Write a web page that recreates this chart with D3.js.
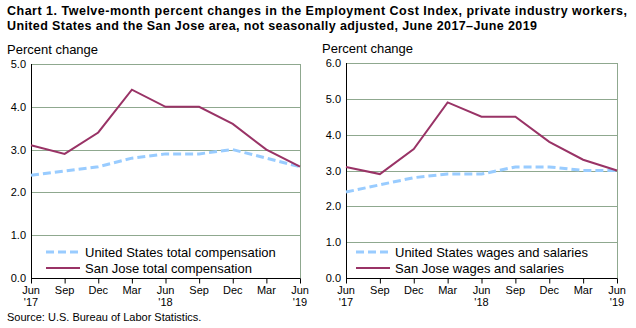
<!DOCTYPE html>
<html>
<head>
<meta charset="utf-8">
<script src="https://cdn.jsdelivr.net/npm/d3@7/dist/d3.min.js"></script>
<style>
  body { margin: 0; background: #fff; }
  text { font-family: "Liberation Sans", Arial, sans-serif; fill: #000; }
  .title { font-weight: bold; font-size: 12.5px; }
  .grid line { stroke: #8fa88f; stroke-width: 1; }
</style>
</head>
<body>
<script>
// quarters, June 2017 to June 2019
const months = ["Jun", "Sep", "Dec", "Mar", "Jun", "Sep", "Dec", "Mar", "Jun"];
const years = ["'17", "", "", "", "'18", "", "", "", "'19"];

// total compensation
const usComp = [2.4, 2.5, 2.6, 2.8, 2.9, 2.9, 3.0, 2.8, 2.6];
const sjComp = [3.1, 2.9, 3.4, 4.4, 4.0, 4.0, 3.6, 3.0, 2.6];

// wages and salaries
const usWages = [2.4, 2.6, 2.8, 2.9, 2.9, 3.1, 3.1, 3.0, 3.0];
const sjWages = [3.1, 2.9, 3.6, 4.9, 4.5, 4.5, 3.8, 3.3, 3.0];

const W = 636, H = 328;
const svg = d3.select("body").append("svg").attr("width", W).attr("height", H);

svg.append("text").attr("class", "title").attr("x", 7).attr("y", 15)
  .attr("textLength", 620).attr("lengthAdjust", "spacing")
  .text("Chart 1. Twelve-month percent changes in the Employment Cost  Index, private industry  workers,");
svg.append("text").attr("class", "title").attr("x", 7).attr("y", 30)
  .attr("textLength", 530).attr("lengthAdjust", "spacing")
  .text("United  States and the  San Jose  area, not seasonally adjusted,  June 2017\u2013June  2019");

svg.append("text").attr("x", 7).attr("y", 321).style("font-size", "11px")
  .text("Source: U.S. Bureau of Labor Statistics.");

function panel(opt) {
  const x = d3.scalePoint().domain(d3.range(months.length)).range([opt.x0, opt.x1]);
  const y = d3.scaleLinear().domain([0, opt.yMax]).range([opt.y1, opt.y0]);
  const g = svg.append("g");

  g.append("text").attr("x", opt.labelX).attr("y", opt.y0 - 10).style("font-size", "13px")
    .text("Percent change");

  // gridlines and plot frame
  const ticks = d3.range(0, opt.yMax + 0.01, 1);
  g.append("g").attr("class", "grid").selectAll("line")
    .data(ticks.filter(t => t > 0)).join("line")
    .attr("x1", opt.x0).attr("x2", opt.x1)
    .attr("y1", d => Math.round(y(d)) + 0.5).attr("y2", d => Math.round(y(d)) + 0.5);
  g.append("line").attr("x1", opt.x1 + 0.5).attr("x2", opt.x1 + 0.5)
    .attr("y1", opt.y0).attr("y2", opt.y1).attr("stroke", "#8fa88f");

  // y labels
  g.selectAll(".ylab").data(ticks).join("text")
    .attr("x", opt.x0 - 5).attr("y", d => y(d) + 4)
    .attr("text-anchor", "end").style("font-size", "11px")
    .text(d => d3.format(".1f")(d));

  // x axis
  const xAxis = d3.axisBottom(x).tickSize(5).tickFormat("");
  const ax = g.append("g").attr("transform", `translate(0,${Math.round(opt.y1) + 0.5})`).call(xAxis);
  ax.select(".domain").attr("d", `M${opt.x0},0H${opt.x1 + 0.5}`).attr("stroke", "#000");
  ax.selectAll(".tick line").attr("stroke", "#000");
  g.selectAll(".mlab").data(months).join("text")
    .attr("x", (d, i) => x(i)).attr("y", opt.y1 + 16)
    .attr("text-anchor", "middle").style("font-size", "11px").text(d => d);
  g.selectAll(".ylab2").data(years).join("text")
    .attr("x", (d, i) => x(i)).attr("y", opt.y1 + 28)
    .attr("text-anchor", "middle").style("font-size", "11px").text(d => d);

  g.append("line").attr("x1", opt.x0 + 0.5).attr("x2", opt.x0 + 0.5)
    .attr("y1", opt.y0).attr("y2", opt.y1).attr("stroke", "#000");

  const line = d3.line().x((d, i) => x(i)).y(d => y(d));
  g.append("path").datum(opt.us).attr("d", line).attr("fill", "none")
    .attr("stroke", "#99ccff").attr("stroke-width", 3).attr("stroke-dasharray", "8,4");
  g.append("path").datum(opt.sj).attr("d", line).attr("fill", "none")
    .attr("stroke", "#993366").attr("stroke-width", 2);

  // legend
  const lg = g.append("g");
  lg.append("line").attr("x1", opt.legX).attr("x2", opt.legX + 34)
    .attr("y1", 252).attr("y2", 252)
    .attr("stroke", "#99ccff").attr("stroke-width", 3).attr("stroke-dasharray", "8,4");
  lg.append("line").attr("x1", opt.legX).attr("x2", opt.legX + 34)
    .attr("y1", 268).attr("y2", 268)
    .attr("stroke", "#993366").attr("stroke-width", 2);
  lg.append("text").attr("x", opt.legX + 39).attr("y", 257).style("font-size", "13px").text(opt.usName);
  lg.append("text").attr("x", opt.legX + 39).attr("y", 273).style("font-size", "13px").text(opt.sjName);
}

panel({ x0: 31, x1: 300, y0: 64, y1: 278, yMax: 5, labelX: 7, legX: 46,
  us: usComp, sj: sjComp,
  usName: "United States total compensation", sjName: "San Jose total compensation" });

panel({ x0: 346, x1: 617, y0: 63, y1: 278, yMax: 6, labelX: 322, legX: 356,
  us: usWages, sj: sjWages,
  usName: "United States wages and salaries", sjName: "San Jose wages and salaries" });
</script>
</body>
</html>
